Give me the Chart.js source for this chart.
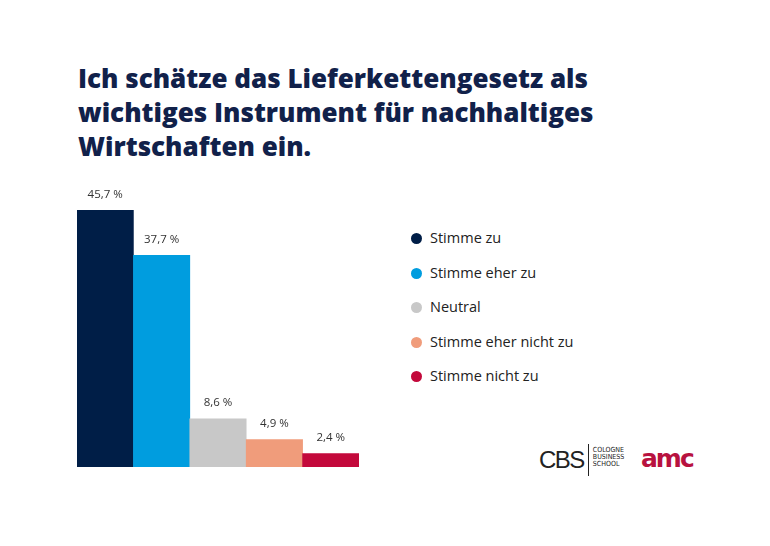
<!DOCTYPE html>
<html>
<head>
<meta charset="utf-8">
<script src="https://cdn.jsdelivr.net/npm/chart.js@4"></script>
<style>
  body { margin: 0; background: #fff; width: 770px; height: 546px; overflow: hidden; font-family: "Open Sans", sans-serif; }
  #title { position: absolute; left: 78px; top: 61px; margin: 0; font-size: 26px; line-height: 34px; font-weight: 800; color: #11214a; letter-spacing: 0; }
  #chartBox { position: absolute; left: 77px; top: 170px; width: 282px; height: 297px; }
  #legend { position: absolute; left: 410px; top: 227px; margin: 0; padding: 0; list-style: none; }
  #legend li { height: 34.5px; line-height: 22px; font-size: 14.5px; color: #222; display: flex; align-items: flex-start; }
  #legend span.dot { width: 11px; height: 11px; border-radius: 50%; margin: 6px 8px 0 1px; }
  #cbs { position: absolute; left: 539px; top: 444px; display: flex; align-items: center; color: #222; }
  #cbs .big { font-family: "Liberation Sans", sans-serif; font-size: 24px; letter-spacing: -1.5px; }
  #cbs .bar { width: 1px; height: 32px; background: #222; margin: 0 4px 0 4px; }
  #cbs .small { font-family: "DejaVu Sans Condensed", sans-serif; font-size: 7px; line-height: 7px; margin-top: -6px; }
  #amc { position: absolute; left: 641px; top: 444px; font-family: "DejaVu Sans", sans-serif; font-weight: 700; font-size: 25px; letter-spacing: -2px; color: #b8123f; }
</style>
</head>
<body>
<h1 id="title">Ich schätze das Lieferkettengesetz als<br>wichtiges Instrument für nachhaltiges<br>Wirtschaften ein.</h1>
<div id="chartBox"><canvas id="chart"></canvas></div>
<ul id="legend"></ul>
<div id="cbs"><span class="big">CBS</span><span class="bar"></span><span class="small">COLOGNE<br>BUSINESS<br>SCHOOL</span></div>
<div id="amc">amc</div>
<script>
// data
const categories = ["Stimme zu", "Stimme eher zu", "Neutral", "Stimme eher nicht zu", "Stimme nicht zu"];
const values = [45.7, 37.7, 8.6, 4.9, 2.4];
const barColors = ["#001e47", "#009ddf", "#c8c8c8", "#f09c7b", "#c3093b"];

// legend
const legendList = document.querySelector("#legend");
categories.forEach((cat, i) => {
  legendList.innerHTML += `<li><span class="dot" style="background:${barColors[i]}"></span>${cat}</li>`;
});

// value labels above the bars
const valueLabels = {
  id: "valueLabels",
  afterDatasetsDraw(chart) {
    const ctx = chart.ctx;
    const meta = chart.getDatasetMeta(0);
    ctx.save();
    ctx.font = '11.5px "Open Sans", sans-serif';
    ctx.fillStyle = "#333";
    ctx.textAlign = "center";
    ctx.textBaseline = "middle";
    meta.data.forEach((bar, i) => {
      ctx.fillText(values[i].toFixed(1).replace(".", ",") + " %", bar.x, bar.y - 16);
    });
    ctx.restore();
  }
};

new Chart("chart", {
  type: "bar",
  data: {
    labels: categories,
    datasets: [{
      data: values,
      backgroundColor: barColors,
      borderWidth: 0,
      categoryPercentage: 1,
      barPercentage: 1
    }]
  },
  options: {
    responsive: true,
    maintainAspectRatio: false,
    animation: false,
    layout: { padding: 0 },
    plugins: { legend: { display: false }, tooltip: { enabled: false } },
    scales: {
      x: { display: false },
      y: { display: false, min: 0, max: 52.9 }
    }
  },
  plugins: [valueLabels]
});
</script>
</body>
</html>
